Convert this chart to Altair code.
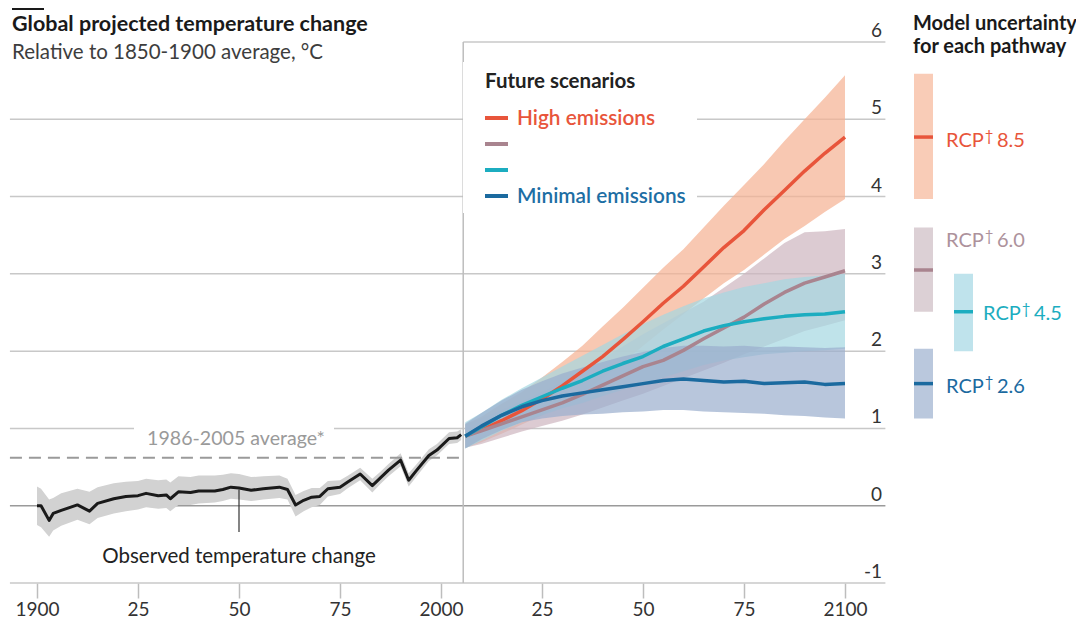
import altair as alt
import pandas as pd

FONT = "Lato"

# ---------------- data ----------------
obs_year = [1900, 1901, 1903, 1904, 1906, 1910, 1913, 1915, 1919, 1922, 1925, 1927, 1930, 1932, 1933,
            1935, 1938, 1940, 1944, 1946, 1948, 1950, 1953, 1956, 1960, 1962, 1964, 1966, 1968, 1970,
            1972, 1975, 1977, 1980, 1983, 1985, 1987, 1990, 1992, 1994, 1997, 1999, 2002, 2004, 2005]
obs_mean = [0.00, 0.00, -0.19, -0.10, -0.06, 0.01, -0.07, 0.03, 0.09, 0.12, 0.13, 0.16, 0.13, 0.14, 0.09,
            0.18, 0.17, 0.19, 0.19, 0.21, 0.24, 0.23, 0.20, 0.22, 0.24, 0.21, 0.01, 0.07, 0.11, 0.12,
            0.22, 0.24, 0.31, 0.41, 0.26, 0.36, 0.46, 0.59, 0.33, 0.46, 0.65, 0.72, 0.87, 0.88, 0.92]
obs_upper = [0.25, 0.22, 0.08, 0.10, 0.16, 0.22, 0.18, 0.24, 0.29, 0.31, 0.32, 0.35, 0.33, 0.34, 0.30,
             0.38, 0.37, 0.39, 0.39, 0.40, 0.42, 0.41, 0.37, 0.38, 0.39, 0.35, 0.14, 0.19, 0.23, 0.23,
             0.32, 0.33, 0.39, 0.49, 0.35, 0.44, 0.54, 0.68, 0.42, 0.54, 0.73, 0.80, 0.95, 0.96, 0.99]
obs_lower = [-0.25, -0.28, -0.40, -0.32, -0.26, -0.18, -0.24, -0.16, -0.10, -0.07, -0.05, -0.02, -0.04, -0.03, -0.07,
             0.01, 0.01, 0.03, 0.04, 0.06, 0.09, 0.08, 0.06, 0.08, 0.10, 0.08, -0.14, -0.07, -0.02, 0.01,
             0.12, 0.15, 0.23, 0.33, 0.17, 0.28, 0.38, 0.51, 0.25, 0.38, 0.58, 0.65, 0.80, 0.81, 0.85]

proj_year = [2006, 2010, 2015, 2020, 2025, 2030, 2035, 2040, 2045, 2050,
             2055, 2060, 2065, 2070, 2075, 2080, 2085, 2090, 2095, 2100]

rcp85_mean = [0.90, 0.98, 1.10, 1.23, 1.38, 1.55, 1.74, 1.93, 2.15, 2.38, 2.62, 2.84, 3.09, 3.34, 3.56, 3.83, 4.08, 4.33, 4.56, 4.77]
rcp85_hi = [1.05, 1.15, 1.32, 1.47, 1.66, 1.86, 2.07, 2.32, 2.56, 2.82, 3.08, 3.32, 3.60, 3.88, 4.15, 4.42, 4.72, 5.00, 5.28, 5.57]
rcp85_lo = [0.75, 0.82, 0.93, 1.05, 1.17, 1.32, 1.47, 1.65, 1.85, 2.07, 2.28, 2.48, 2.68, 2.88, 3.05, 3.25, 3.45, 3.62, 3.80, 3.97]

rcp60_mean = [0.90, 0.97, 1.06, 1.15, 1.24, 1.33, 1.44, 1.56, 1.68, 1.80, 1.88, 2.01, 2.16, 2.30, 2.44, 2.61, 2.76, 2.88, 2.96, 3.04]
rcp60_hi = [1.05, 1.13, 1.24, 1.35, 1.47, 1.60, 1.74, 1.90, 2.06, 2.22, 2.36, 2.50, 2.64, 2.82, 3.00, 3.20, 3.40, 3.54, 3.55, 3.58]
rcp60_lo = [0.75, 0.80, 0.88, 0.96, 1.03, 1.10, 1.18, 1.27, 1.36, 1.45, 1.55, 1.65, 1.75, 1.85, 1.96, 2.06, 2.16, 2.26, 2.33, 2.40]

rcp45_mean = [0.90, 1.02, 1.17, 1.30, 1.41, 1.52, 1.62, 1.74, 1.84, 1.93, 2.06, 2.16, 2.26, 2.33, 2.38, 2.42, 2.45, 2.47, 2.48, 2.51]
rcp45_hi = [1.08, 1.20, 1.37, 1.52, 1.66, 1.80, 1.94, 2.08, 2.22, 2.35, 2.47, 2.58, 2.68, 2.76, 2.83, 2.88, 2.93, 2.96, 2.98, 3.00]
rcp45_lo = [0.74, 0.84, 0.97, 1.08, 1.17, 1.26, 1.33, 1.42, 1.50, 1.57, 1.66, 1.74, 1.82, 1.88, 1.92, 1.96, 1.98, 2.00, 2.01, 2.03]

rcp26_mean = [0.90, 1.03, 1.17, 1.28, 1.36, 1.42, 1.46, 1.50, 1.54, 1.58, 1.62, 1.64, 1.62, 1.60, 1.61, 1.58, 1.59, 1.60, 1.57, 1.58]
rcp26_hi = [1.06, 1.20, 1.36, 1.50, 1.61, 1.71, 1.79, 1.86, 1.93, 1.99, 2.04, 2.07, 2.07, 2.06, 2.07, 2.05, 2.06, 2.05, 2.04, 2.05]
rcp26_lo = [0.74, 0.86, 0.98, 1.08, 1.13, 1.16, 1.18, 1.19, 1.21, 1.22, 1.24, 1.24, 1.22, 1.21, 1.20, 1.19, 1.17, 1.16, 1.14, 1.13]

scenario_names = ["8.5", "6.0", "4.5", "2.6"]
legend_lo = [3.97, 2.51, 2.00, 1.13]
legend_hi = [5.59, 3.60, 3.00, 2.03]
legend_mean = [4.77, 3.05, 2.51, 1.58]

avg_1986_2005 = 0.62
y_ticks = [6, 5, 4, 3, 2, 1, 0, -1]
x_ticks = [1900, 1925, 1950, 1975, 2000, 2025, 2050, 2075, 2100]
x_tick_labels = ["1900", "25", "50", "75", "2000", "25", "50", "75", "2100"]

# ---------------- styles ----------------
LINE_COLORS = ["#e8553b", "#a9848f", "#1cadc0", "#1b6a9f"]
BAND_COLORS = ["#f5b091", "#cdb5bf", "#a4d7e1", "#9aaecd"]
BAR_COLORS = ["#f9ccb7", "#dcd0d5", "#bfe3ec", "#bac8dd"]
LABEL_COLORS = ["#e8553b", "#ad929c", "#1cadc0", "#1b6a9f"]
GRID = "#c8c8c8"
DARK = "#1a1a1a"

X = alt.Scale(domain=[1892.822, 2157.178], nice=False, zero=False)
Y = alt.Scale(domain=[-1, 6.44], nice=False, zero=False)
DIVIDER = 2005.5
GRID_START = 1893.3
GRID_END = 2110.0

label_expr = " : ".join(f"datum.value == {v} ? '{l}'" for v, l in zip(x_ticks, x_tick_labels)) + " : ''"
X_AXIS = alt.Axis(values=x_ticks, labelExpr=label_expr, title=None, grid=False, domain=False,
                  tickSize=15, tickColor="#bdbdbd", tickWidth=1.5, labelFontSize=19,
                  labelColor="#333333", labelFont=FONT, labelPadding=2, labelFlush=False,
                  labelOverlap=False)


def xq(field):
    return alt.X(field, type="quantitative", scale=X, axis=X_AXIS)


def yq(field):
    return alt.Y(field, type="quantitative", scale=Y, axis=None)


one = pd.DataFrame({"a": [0]})
layers = []

# gridlines
grid_rows = []
for v in [5, 4, 3, 2, 1]:
    grid_rows.append({"v": v, "x1": GRID_START, "x2": DIVIDER})
for v in [6, 5, 4, 3, 2, 1]:
    grid_rows.append({"v": v, "x1": DIVIDER, "x2": GRID_END})
grid_rows.append({"v": -1, "x1": GRID_START, "x2": GRID_END})
grid_df = pd.DataFrame(grid_rows)
layers.append(alt.Chart(grid_df).mark_rule(color=GRID, strokeWidth=1.5).encode(
    x=xq("x1"), x2="x2", y=yq("v")))
zero_df = pd.DataFrame({"v": [0], "x1": [GRID_START], "x2": [GRID_END]})
layers.append(alt.Chart(zero_df).mark_rule(color="#9a9a9a", strokeWidth=1.5).encode(
    x=xq("x1"), x2="x2", y=yq("v")))
div_df = pd.DataFrame({"x": [DIVIDER], "y1": [-1], "y2": [6]})
layers.append(alt.Chart(div_df).mark_rule(color="#bdbdbd", strokeWidth=1.5).encode(
    x=xq("x"), y=yq("y1"), y2="y2"))

# white backgrounds behind annotations
layers.append(alt.Chart(one).mark_rect(color="white").encode(
    x=alt.value(455), x2=alt.value(689), y=alt.value(54), y2=alt.value(205)))
layers.append(alt.Chart(one).mark_rect(color="white").encode(
    x=alt.value(126), x2=alt.value(326), y=alt.value(418), y2=alt.value(440)))

# observed band and average line
obs_df = pd.DataFrame({"year": obs_year, "mean": obs_mean, "lo": obs_lower, "hi": obs_upper})
layers.append(alt.Chart(obs_df).mark_area(color="#d2d2d2").encode(
    x=xq("year"), y=yq("lo"), y2="hi"))
avg_df = pd.DataFrame({"x1": [GRID_START], "x2": [DIVIDER], "v": [avg_1986_2005]})
layers.append(alt.Chart(avg_df).mark_rule(color="#9a9a9a", strokeWidth=2, strokeDash=[12, 7]).encode(
    x=xq("x1"), x2="x2", y=yq("v")))

# projections
proj = [
    (rcp85_mean, rcp85_lo, rcp85_hi),
    (rcp60_mean, rcp60_lo, rcp60_hi),
    (rcp45_mean, rcp45_lo, rcp45_hi),
    (rcp26_mean, rcp26_lo, rcp26_hi),
]
proj_dfs = [pd.DataFrame({"year": proj_year, "mean": m, "lo": lo, "hi": hi}) for m, lo, hi in proj]
for df, c in zip(proj_dfs, BAND_COLORS):
    layers.append(alt.Chart(df).mark_area(color=c, opacity=0.7).encode(
        x=xq("year"), y=yq("lo"), y2="hi"))

# observed line
layers.append(alt.Chart(obs_df).mark_line(color=DARK, strokeWidth=3, strokeJoin="round").encode(
    x=xq("year"), y=yq("mean")))
for df, c in zip(proj_dfs, LINE_COLORS):
    layers.append(alt.Chart(df).mark_line(color=c, strokeWidth=3.5, strokeJoin="round").encode(
        x=xq("year"), y=yq("mean")))

# pointer for observed label
ptr_df = pd.DataFrame({"x": [1950], "y1": [0.21], "y2": [-0.34]})
layers.append(alt.Chart(ptr_df).mark_rule(color="#333333", strokeWidth=1.2).encode(
    x=xq("x"), y=yq("y1"), y2="y2"))

# y tick labels
yt_df = pd.DataFrame({"v": y_ticks, "lab": [str(t) for t in y_ticks]})
layers.append(alt.Chart(yt_df).mark_text(align="right", baseline="alphabetic", dy=-5, fontSize=19,
                                         font=FONT, color="#333333").encode(
    x=alt.value(874), y=yq("v"), text="lab:N"))

# model uncertainty legend bars
leg_df = pd.DataFrame({"name": scenario_names, "lo": legend_lo, "hi": legend_hi, "mean": legend_mean})
bar_x = [906, 906, 946, 906]
for i in range(4):
    sub = leg_df.iloc[[i]]
    layers.append(alt.Chart(sub).mark_rect(color=BAR_COLORS[i]).encode(
        x=alt.value(bar_x[i]), x2=alt.value(bar_x[i] + 19), y=yq("lo"), y2="hi"))
    layers.append(alt.Chart(sub).mark_rule(color=LINE_COLORS[i], strokeWidth=3.5).encode(
        x=alt.value(bar_x[i]), x2=alt.value(bar_x[i] + 19), y=yq("mean")))


def text(t, x, y, size=19, color=DARK, weight="normal", align="left", baseline="alphabetic"):
    return alt.Chart(one).mark_text(text=t, fontSize=size, font=FONT, color=color, fontWeight=weight,
                                    align=align, baseline=baseline).encode(
        x=alt.value(x), y=alt.value(y))


# RCP labels with superscript dagger
lab_pos = [(938, 139), (938, 239), (975, 312), (938, 385)]
for i, (lx, ly) in enumerate(lab_pos):
    layers.append(text("RCP", lx, ly, size=20, color=LABEL_COLORS[i]))
    layers.append(text("\u2020", lx + 43, ly - 6, size=15, color=LABEL_COLORS[i], align="center"))
    layers.append(text(scenario_names[i], lx + 51, ly, size=20, color=LABEL_COLORS[i]))

# titles and annotations
layers.append(alt.Chart(one).mark_rule(color=DARK, strokeWidth=2).encode(
    x=alt.value(4), x2=alt.value(36), y=alt.value(1)))
layers.append(text("Global projected temperature change", 4, 23, size=21.5, weight="bold"))
layers.append(text("Relative to 1850-1900 average, \u00b0C", 4, 51, size=20.5, color="#3d3d3d"))
layers.append(text("Model uncertainty", 905, 22, size=20, weight="bold"))
layers.append(text("for each pathway", 905, 45, size=20, weight="bold"))
layers.append(text("Future scenarios", 477, 80, size=20.5, weight="bold", color="#222222"))
sw_y = [110, 136, 162, 188]
for yy, c in zip(sw_y, LINE_COLORS):
    layers.append(alt.Chart(one).mark_rule(color=c, strokeWidth=4).encode(
        x=alt.value(477), x2=alt.value(500), y=alt.value(yy)))
layers.append(text("High emissions", 509, 117, size=20.8, weight=600, color=LINE_COLORS[0]))
layers.append(text("Minimal emissions", 509, 195, size=20.8, weight=600, color="#1d6ea4"))
layers.append(text("1986-2005 average*", 228, 437, size=19.6, color="#9a9a9a", align="center"))
layers.append(text("Observed temperature change", 231, 555, size=20.5, color="#222222", align="center"))

chart = alt.layer(*layers).properties(
    width=1068, height=575,
    padding={"left": 0, "top": 0, "right": 0, "bottom": 37},
    autosize=alt.AutoSizeParams(type="none"),
).configure_view(stroke=None)

chart.save("out.html", embed_options={"renderer": "svg", "actions": False})
